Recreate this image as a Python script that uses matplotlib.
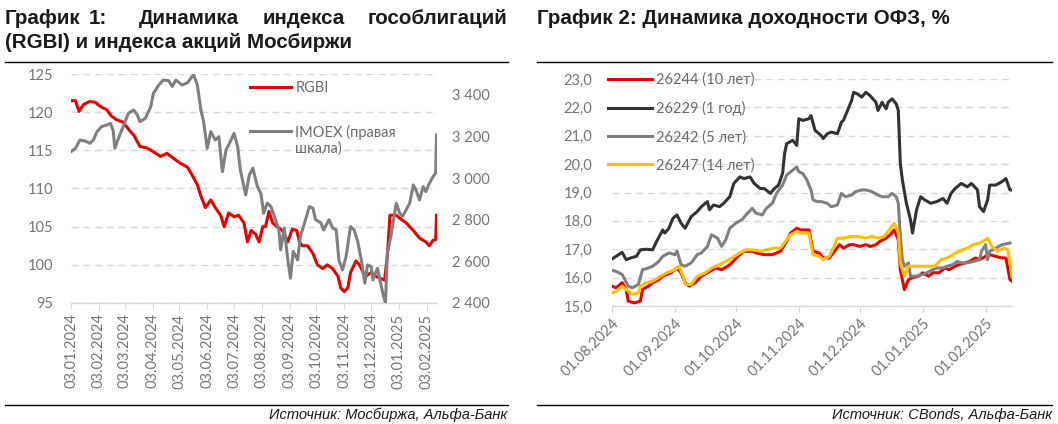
import numpy as np
import pandas as pd
import matplotlib
matplotlib.use('Agg')
import matplotlib.pyplot as plt
import matplotlib.dates as mdates
from matplotlib.lines import Line2D
from matplotlib.ticker import FuncFormatter, MultipleLocator


## data


# chart 1: RGBI (left scale) and IMOEX (right scale), days since 03.01.2024
start1 = pd.Timestamp('2024-01-03')

rgbi_days = [0, 5, 9, 14, 21, 27, 32, 40, 45, 51, 58, 66, 70, 77, 85, 92, 100, 107, 115, 122,
             130, 135, 141, 145, 150, 156, 161, 167, 171, 176, 182, 187, 193, 197, 201, 206, 210,
             214, 217, 221, 225, 230, 236, 242, 247, 252, 255, 258, 264, 270, 275, 281, 286, 292,
             298, 301, 305, 309, 312, 318, 322, 326, 329, 335, 340, 350, 353, 356, 363, 368, 374,
             382, 389, 396, 400, 404, 407, 408]
rgbi_vals = [121.5, 121.5, 120.1, 121.0, 121.4, 121.3, 120.8, 120.3, 119.5, 119.0, 118.7, 117.5,
             117.0, 115.5, 115.3, 114.8, 114.2, 114.6, 113.9, 113.3, 112.8, 111.8, 110.5, 109.0,
             107.5, 108.5, 107.5, 106.5, 105.0, 106.8, 106.3, 106.5, 105.5, 103.0, 104.5, 104.0,
             103.0, 105.0, 105.0, 107.0, 105.5, 105.0, 104.5, 103.0, 104.7, 104.5, 103.0, 102.5,
             102.5, 101.5, 100.0, 99.5, 100.0, 99.5, 98.5, 97.0, 96.5, 97.0, 99.0, 100.5, 100.0,
             99.0, 98.5, 99.0, 98.5, 98.0, 101.0, 106.5, 106.5, 106.0, 105.5, 104.5, 103.5, 103.0,
             102.5, 103.2, 103.3, 106.5]

imoex_days = [0, 5, 10, 16, 21, 25, 29, 34, 40, 44, 47, 49, 53, 59, 64, 70, 74, 77, 83, 89, 92,
              98, 103, 109, 113, 117, 124, 130, 135, 137, 141, 145, 148, 152, 156, 161, 165, 169,
              173, 176, 182, 186, 189, 195, 199, 203, 208, 212, 215, 219, 223, 227, 232, 234, 238,
              242, 245, 248, 253, 256, 260, 266, 270, 273, 279, 282, 288, 292, 296, 299, 303, 307,
              312, 316, 320, 324, 328, 331, 335, 337, 342, 344, 348, 351, 353, 357, 363, 367, 370,
              374, 378, 382, 385, 389, 393, 396, 400, 404, 407, 408]
imoex_vals = [3127, 3143, 3183, 3178, 3167, 3183, 3223, 3247, 3255, 3263, 3230, 3143, 3192, 3255,
              3311, 3327, 3303, 3271, 3287, 3343, 3407, 3447, 3471, 3468, 3440, 3471, 3447, 3458,
              3487, 3495, 3447, 3327, 3271, 3143, 3223, 3183, 3199, 3031, 3135, 3159, 3215, 3151,
              3039, 2919, 3015, 3047, 2960, 2925, 2831, 2880, 2864, 2816, 2751, 2655, 2760, 2607,
              2519, 2648, 2607, 2720, 2775, 2863, 2855, 2800, 2785, 2751, 2800, 2760, 2751, 2607,
              2559, 2623, 2767, 2751, 2696, 2607, 2495, 2583, 2575, 2511, 2567, 2527, 2447, 2399,
              2639, 2720, 2879, 2831, 2816, 2847, 2879, 2967, 2943, 2895, 2959, 2935, 2975, 3007,
              3023, 3207]

ticks1 = ['2024-01-03', '2024-02-03', '2024-03-03', '2024-04-03', '2024-05-03', '2024-06-03',
          '2024-07-03', '2024-08-03', '2024-09-03', '2024-10-03', '2024-11-03', '2024-12-03',
          '2025-01-03', '2025-02-03']

# chart 2: OFZ yields, days since 01.08.2024
start2 = pd.Timestamp('2024-08-01')

ofz_names = ['26244 (10 лет)', '26229 (1 год)', '26242 (5 лет)', '26247 (14 лет)']

red_days = [0, 2, 5, 7, 8, 11, 14, 15, 18, 20, 23, 25, 29, 32, 34, 36, 38, 41, 44, 47, 51, 54,
            57, 59, 62, 65, 69, 71, 75, 79, 83, 86, 88, 91, 93, 97, 99, 102, 104, 107, 109, 112,
            114, 117, 119, 122, 125, 127, 130, 132, 135, 137, 139, 141, 142, 144, 146, 148, 151,
            153, 156, 158, 161, 164, 166, 169, 171, 174, 176, 179, 181, 184, 186, 189, 192, 194,
            196, 197]
red_vals = [15.70, 15.64, 15.82, 15.58, 15.17, 15.11, 15.17, 15.58, 15.70, 15.82, 15.93, 16.05,
            16.17, 16.34, 16.17, 15.82, 15.70, 15.82, 16.05, 16.17, 16.34, 16.28, 16.40, 16.52,
            16.75, 16.93, 16.93, 16.87, 16.81, 16.81, 16.93, 17.28, 17.57, 17.74, 17.68, 17.68,
            16.93, 16.87, 16.69, 16.69, 16.87, 17.16, 17.04, 17.16, 17.16, 17.10, 17.16, 17.10,
            17.16, 17.28, 17.39, 17.51, 17.68, 17.33, 16.28, 15.58, 15.93, 16.00, 16.05, 16.17,
            16.05, 16.17, 16.17, 16.34, 16.28, 16.40, 16.46, 16.52, 16.57, 16.69, 16.63, 16.75,
            16.81, 16.75, 16.69, 16.69, 15.93, 15.87]

black_days = [0, 2, 5, 7, 9, 12, 14, 17, 20, 22, 25, 26, 28, 30, 32, 34, 36, 39, 42, 44, 47, 48,
              50, 53, 55, 58, 60, 63, 65, 68, 70, 73, 75, 78, 80, 82, 84, 85, 86, 89, 91, 92, 94,
              97, 98, 100, 103, 104, 106, 108, 111, 113, 114, 116, 118, 119, 121, 123, 125, 127,
              130, 131, 133, 135, 136, 138, 140, 141, 142, 143, 145, 147, 148, 150, 152, 154, 157,
              160, 163, 165, 167, 169, 172, 175, 177, 180, 181, 183, 185, 186, 189, 192, 194, 196,
              197]
black_vals = [16.66, 16.75, 16.89, 16.63, 16.69, 16.75, 16.98, 17.00, 16.98, 17.28, 17.68, 17.57,
              17.74, 18.09, 18.21, 17.92, 17.74, 18.15, 18.33, 18.50, 18.68, 18.39, 18.56, 18.50,
              18.62, 18.85, 19.32, 19.55, 19.49, 19.55, 19.32, 19.14, 19.14, 18.97, 19.14, 19.26,
              19.67, 20.37, 20.72, 20.84, 20.66, 21.60, 21.54, 21.60, 21.71, 21.19, 21.01, 20.90,
              21.07, 21.13, 21.07, 21.48, 21.54, 21.89, 22.24, 22.53, 22.47, 22.36, 22.53, 22.42,
              22.18, 21.89, 22.18, 21.95, 22.18, 22.30, 22.12, 21.89, 20.02, 19.44, 18.62, 18.04,
              17.57, 18.39, 18.85, 18.74, 18.62, 18.68, 18.79, 18.62, 18.97, 19.14, 19.32, 19.20,
              19.32, 19.09, 18.50, 18.33, 18.74, 19.26, 19.26, 19.38, 19.49, 19.09, 19.09]

gray_days = [0, 2, 5, 8, 10, 13, 15, 18, 20, 23, 25, 28, 31, 32, 34, 36, 39, 42, 44, 47, 49, 52,
             54, 56, 58, 61, 64, 66, 69, 71, 74, 76, 79, 81, 84, 86, 88, 91, 92, 94, 96, 98, 99,
             101, 103, 106, 108, 111, 113, 115, 118, 120, 123, 125, 128, 131, 133, 136, 138, 140,
             141, 142, 143, 144, 146, 147, 150, 153, 155, 158, 160, 163, 165, 168, 170, 172, 175,
             178, 181, 182, 184, 185, 186, 189, 192, 196]
gray_vals = [16.26, 16.22, 16.11, 15.70, 15.64, 15.76, 16.28, 16.34, 16.40, 16.57, 16.75, 16.87,
             16.81, 16.93, 16.46, 16.40, 16.52, 16.81, 16.87, 17.10, 17.51, 17.39, 17.10, 17.33,
             17.74, 17.92, 18.04, 18.21, 18.44, 18.27, 18.21, 18.44, 18.62, 18.97, 19.26, 19.61,
             19.73, 19.90, 19.73, 19.67, 19.44, 19.09, 18.74, 18.68, 18.68, 18.62, 18.50, 18.56,
             18.97, 18.85, 18.91, 19.03, 19.09, 19.09, 19.03, 18.91, 18.85, 18.85, 18.97, 18.85,
             18.62, 17.45, 16.63, 16.40, 16.52, 16.05, 16.05, 16.11, 16.17, 16.28, 16.34, 16.34,
             16.40, 16.46, 16.57, 16.52, 16.52, 16.57, 16.63, 16.93, 17.16, 16.63, 16.93, 17.04,
             17.16, 17.22]

yellow_days = [0, 2, 5, 8, 10, 13, 14, 17, 20, 24, 27, 31, 33, 35, 36, 39, 42, 46, 49, 53, 56,
               59, 63, 66, 69, 73, 76, 80, 83, 86, 88, 91, 93, 97, 99, 102, 104, 107, 109, 111,
               114, 118, 121, 125, 128, 131, 134, 136, 139, 141, 142, 144, 146, 149, 153, 156,
               159, 162, 165, 168, 171, 175, 178, 181, 184, 185, 187, 190, 193, 195, 197]
yellow_vals = [15.46, 15.52, 15.70, 15.52, 15.41, 15.46, 15.70, 15.82, 15.87, 16.05, 16.17, 16.28,
               16.40, 16.05, 15.76, 15.76, 16.05, 16.17, 16.34, 16.46, 16.57, 16.69, 16.87, 16.98,
               16.98, 16.93, 16.98, 17.04, 17.04, 17.33, 17.51, 17.63, 17.57, 17.57, 16.81, 16.75,
               16.63, 16.75, 17.04, 17.39, 17.39, 17.45, 17.45, 17.39, 17.45, 17.39, 17.45, 17.63,
               17.92, 17.57, 16.52, 16.05, 16.40, 16.40, 16.40, 16.40, 16.40, 16.63, 16.69, 16.81,
               16.93, 17.04, 17.16, 17.22, 17.33, 17.39, 17.10, 16.93, 17.04, 16.98, 16.05]

ticks2 = ['2024-08-01', '2024-09-01', '2024-10-01', '2024-11-01', '2024-12-01', '2025-01-01',
          '2025-02-01']


def toDates(start, days):
	return start + pd.to_timedelta(days, unit='D')


## styles

tick_col = '#757575'
grid_col = '#d9d9d9'
leg_col = '#6b6b6b'
tick_font = 'Lato'
title_font = 'Liberation Sans'

fig = plt.figure(figsize=(10.58, 4.24), dpi=100)
W, H = 1058.0, 424.0


def styleAxis(ax):
	for s in ['top', 'right', 'left']:
		ax.spines[s].set_visible(False)
	ax.spines['bottom'].set_color(grid_col)
	ax.spines['bottom'].set_linewidth(1.0)
	ax.grid(axis='y', color=grid_col, linestyle=(0, (5, 3.5)), linewidth=1.0)
	ax.set_axisbelow(True)
	ax.tick_params(axis='y', length=0, labelsize=10.5, labelcolor=tick_col, pad=13)
	ax.tick_params(axis='x', length=4, color=grid_col, labelsize=10.5, labelcolor=tick_col)
	for lab in ax.get_yticklabels() + ax.get_xticklabels():
		lab.set_fontfamily(tick_font)


## chart 1

ax1 = fig.add_axes([71/W, 1-303/H, 366/W, 229/H])
ax1.plot(toDates(start1, rgbi_days), rgbi_vals, color='#e60000', lw=2.2, label='RGBI')
ax1.set_ylim(95, 125)
ax1.yaxis.set_major_locator(MultipleLocator(5))
ax1.set_xlim(start1, start1 + pd.Timedelta(days=408.5))
ax1.set_xticks(pd.to_datetime(ticks1))
ax1.xaxis.set_major_formatter(mdates.DateFormatter('%d.%m.%Y'))
styleAxis(ax1)
plt.setp(ax1.get_xticklabels(), rotation=90)

ax1r = ax1.twinx()
ax1r.plot(toDates(start1, imoex_days), imoex_vals, color='#808080', lw=2.2, label='IMOEX (правая')
ax1r.set_ylim(2400, 3500)
ax1r.set_yticks([2400, 2600, 2800, 3000, 3200, 3400])
ax1r.yaxis.set_major_formatter(FuncFormatter(lambda v, p: f'{int(v):,}'.replace(',', ' ')))
for s in ['top', 'right', 'left', 'bottom']:
	ax1r.spines[s].set_visible(False)
ax1r.tick_params(axis='y', length=0, labelsize=10.5, labelcolor=tick_col, pad=11)
for lab in ax1r.get_yticklabels():
	lab.set_fontfamily(tick_font)

h1, l1 = ax1.get_legend_handles_labels()
h2, l2 = ax1r.get_legend_handles_labels()
leg1 = ax1r.legend(h1 + h2, l1 + l2, loc='upper left', bbox_to_anchor=(0.489, 0.968),
                   frameon=False, borderpad=0, borderaxespad=0, handlelength=2.8,
                   handletextpad=0.3, labelspacing=2.0,
                   prop={'family': tick_font, 'size': 10.5})
for t in leg1.get_texts():
	t.set_color(leg_col)
# second line of the IMOEX label sits under the first, as in Excel
ax1r.annotate('шкала)', xy=(0, 0), xycoords=leg1.get_texts()[1], xytext=(0, -1),
              textcoords='offset points', ha='left', va='top', color=leg_col,
              family=tick_font, fontsize=10.5, zorder=6)


## chart 2

ax2 = fig.add_axes([612/W, 1-306/H, 400/W, 227/H])
colors2 = ['#e60000', '#333333', '#808080', '#ffc000']
series2 = [(red_days, red_vals), (black_days, black_vals), (gray_days, gray_vals),
           (yellow_days, yellow_vals)]
for (d, v), c, n in zip(series2, colors2, ofz_names):
	ax2.plot(toDates(start2, d), v, color=c, lw=2.2, label=n)
ax2.set_ylim(15, 23)
ax2.yaxis.set_major_locator(MultipleLocator(1))
ax2.yaxis.set_major_formatter(FuncFormatter(lambda v, p: f'{v:.1f}'.replace('.', ',')))
ax2.set_xlim(start2, start2 + pd.Timedelta(days=197))
ax2.set_xticks(pd.to_datetime(ticks2))
ax2.xaxis.set_major_formatter(mdates.DateFormatter('%d.%m.%Y'))
styleAxis(ax2)
ax2.tick_params(axis='y', pad=14)
plt.setp(ax2.get_xticklabels(), rotation=45, ha='right', rotation_mode='anchor')

leg2 = ax2.legend(loc='upper left', bbox_to_anchor=(-0.01, 1.027), frameon=False, borderpad=0,
                  borderaxespad=0, handlelength=3.0, handletextpad=0.3, labelspacing=0.95,
                  prop={'family': tick_font, 'size': 10.5})
for t in leg2.get_texts():
	t.set_color(leg_col)


## titles, rules, sources

tkw = dict(fontsize=14.8, fontweight='bold', family=title_font, color='#1a1a1a', va='center')
fig.text(5/W, 1-18/H, 'График', ha='left', **tkw)
fig.text(89/W, 1-18/H, '1:', ha='left', **tkw)
fig.text(139/W, 1-18/H, 'Динамика', ha='left', **tkw)
fig.text(263/W, 1-18/H, 'индекса', ha='left', **tkw)
fig.text(507/W, 1-18/H, 'гособлигаций', ha='right', **tkw)
fig.text(5/W, 1-42/H, '(RGBI) и индекса акций Мосбиржи', ha='left', **tkw)
fig.text(537/W, 1-18/H, 'График 2: Динамика доходности ОФЗ, %', ha='left', **tkw)

for x0, x1 in [(5, 508), (537, 1052)]:
	for y in [62, 405]:
		fig.add_artist(Line2D([x0/W, x1/W], [1-y/H, 1-y/H], color='black', lw=1.0))

skw = dict(fontsize=10.5, style='italic', family=title_font, color='#1a1a1a', ha='right', va='center')
fig.text(507/W, 1-415/H, 'Источник: Мосбиржа, Альфа-Банк', **skw)
fig.text(1052/W, 1-415/H, 'Источник: CBonds, Альфа-Банк', **skw)

fig.savefig('out.png', dpi=100, facecolor='white')
